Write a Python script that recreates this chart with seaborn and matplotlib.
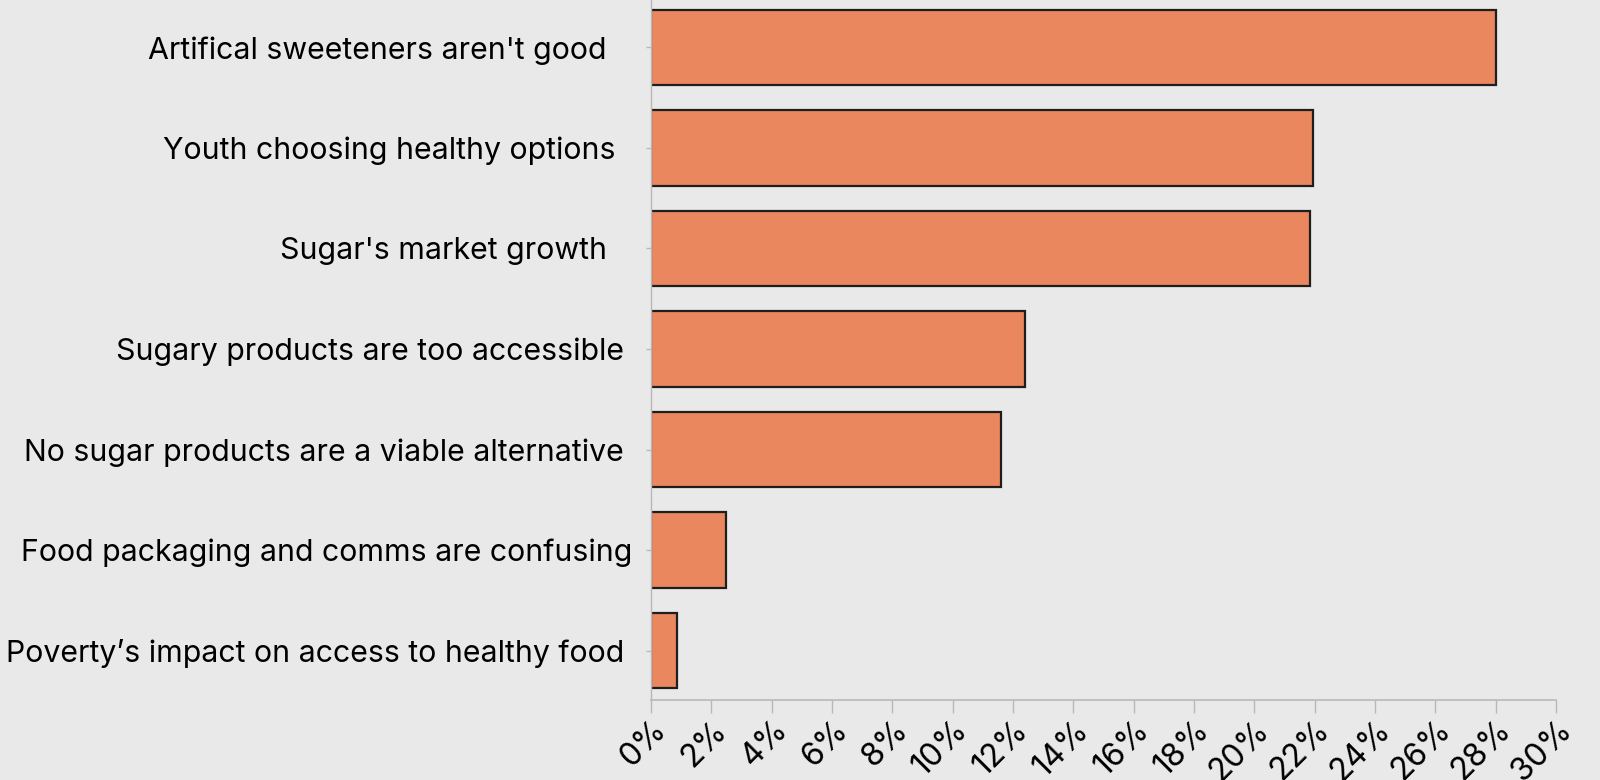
import matplotlib
matplotlib.use("Agg")
import matplotlib.pyplot as plt
import pandas as pd
import seaborn as sns

# Survey themes and the share of responses that mention each one (%)
categories = [
    "Artifical sweeteners aren't good   ",
    "Youth choosing healthy options  ",
    "Sugar's market growth   ",
    "Sugary products are too accessible ",
    "No sugar products are a viable alternative ",
    "Food packaging and comms are confusing",
    "Poverty\u2019s impact on access to healthy food ",
]
shares = [28.0, 21.95, 21.85, 12.4, 11.6, 2.5, 0.85]

x_ticks = list(range(0, 31, 2))
x_tick_labels = [f"{t}%" for t in x_ticks]

BG = "#e9e9e9"
BAR = "#ea875f"
EDGE = "#1e1e1e"
AXIS_GREY = "#b8b8b8"

sns.set_theme(style="white")
plt.rcParams["font.family"] = ["Inter", "DejaVu Sans"]

df = pd.DataFrame({"category": categories, "share": shares})

fig = plt.figure(figsize=(16, 7.8), dpi=100, facecolor=BG)
ax = fig.add_axes([651 / 1600, 80 / 780, (1556 - 651) / 1600, 700 / 780])
ax.set_facecolor(BG)

sns.barplot(
    data=df, x="share", y="category", orient="h",
    color=BAR, saturation=1, width=0.75,
    edgecolor=EDGE, linewidth=1.6, ax=ax,
)

ax.set_xlim(0, 30)
ax.set_ylim(6.49, -0.47)
ax.set_xticks(x_ticks)
ax.set_xticklabels(x_tick_labels, rotation=45, ha="right", rotation_mode="anchor")
ax.set_xlabel("")
ax.set_ylabel("")

ax.tick_params(axis="x", bottom=True, length=9.5, width=1, color=AXIS_GREY,
               pad=1, labelsize=23, labelcolor="black")
ax.tick_params(axis="y", left=True, length=3.5, width=1, color=AXIS_GREY,
               pad=10, labelsize=21.8, labelcolor="black")

for side in ("top", "right"):
    ax.spines[side].set_visible(False)
ax.spines["bottom"].set_color(AXIS_GREY)
ax.spines["bottom"].set_linewidth(1.2)
ax.spines["left"].set_color(AXIS_GREY)
ax.spines["left"].set_linewidth(1.0)

fig.savefig("out.png", dpi=100, facecolor=BG)
